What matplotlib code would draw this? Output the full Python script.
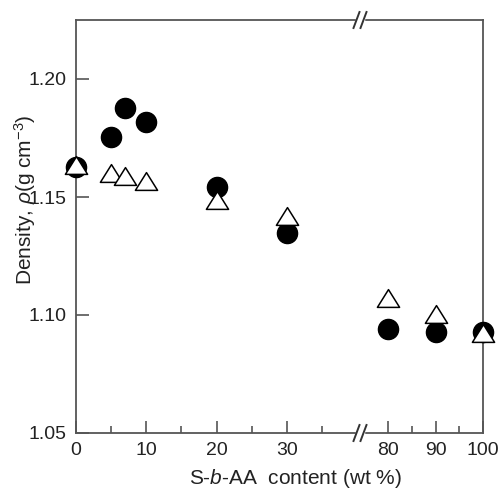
import matplotlib.pyplot as plt
from matplotlib.lines import Line2D
from matplotlib.path import Path

plt.rcParams['font.family'] = ['Liberation Sans', 'DejaVu Sans']
plt.rcParams['mathtext.fontset'] = 'custom'
plt.rcParams['mathtext.rm'] = 'Liberation Sans'
plt.rcParams['mathtext.it'] = 'Liberation Sans:italic'

# data
content = [0, 5, 7, 10, 20, 30, 80, 90, 100]
density_circle = [1.1627, 1.1754, 1.1877, 1.1818, 1.1542, 1.1347, 1.0941, 1.0928, 1.0926]
density_triangle = [1.1636, 1.1602, 1.1589, 1.1568, 1.1487, 1.1419, 1.1072, 1.1004, 1.0924]

left_ticks = [0, 10, 20, 30]
left_minor = [5, 15, 25, 35]
right_ticks = [80, 90, 100]
right_minor = [85, 95]

W, H = 501, 491
fig = plt.figure(figsize=(W / 100, H / 100), dpi=100)

x0, xb, x1 = 76, 360, 483
y0, y1 = 433, 20
bottom = (H - y0) / H
height = (y0 - y1) / H
ax1 = fig.add_axes([x0 / W, bottom, (xb - x0) / W, height])
ax2 = fig.add_axes([xb / W, bottom, (x1 - xb) / W, height])

spine_col = '#555555'
text_col = '#222222'
# slightly flattened open triangle, as in the figure
tri = Path([(-1, -0.8), (1, -0.8), (0, 0.8), (-1, -0.8)], closed=True)

for ax, lo, hi in [(ax1, 0, 40.4), (ax2, 74.1, 100)]:
    idx = [i for i, c in enumerate(content) if lo <= c <= hi]
    xs = [content[i] for i in idx]
    ax.plot(xs, [density_circle[i] for i in idx], 'o', ms=14.5, color='black', mec='black',
            clip_on=False, zorder=3)
    ax.plot(xs, [density_triangle[i] for i in idx], linestyle='none', marker=tri, ms=16,
            mfc='white', mec='black', mew=1.1, clip_on=False, zorder=4)
    ax.set_xlim(lo, hi)
    ax.set_ylim(1.05, 1.225)
    for s in ax.spines.values():
        s.set_color(spine_col)
        s.set_linewidth(1.3)
    ax.tick_params(direction='in', which='major', length=9, width=1.2, color=spine_col,
                   labelsize=14, labelcolor=text_col, pad=6.5)
    ax.tick_params(direction='in', which='minor', length=5, width=1.2, color=spine_col)

ax1.set_xticks(left_ticks)
ax1.set_xticks(left_minor, minor=True)
ax1.set_yticks([1.05, 1.10, 1.15, 1.20])
ax1.set_yticklabels(['1.05', '1.10', '1.15', '1.20'])
ax1.spines['right'].set_visible(False)

ax2.set_xticks(right_ticks)
ax2.set_xticks(right_minor, minor=True)
ax2.set_yticks([])
ax2.spines['left'].set_visible(False)

# break marks
for yp in (y0, y1):
    yf = (H - yp) / H
    fig.add_artist(Line2D([(xb - 3) / W, (xb + 3) / W], [yf, yf], color='white', lw=2.5, zorder=10))
    for dx in (-3.5, 3.5):
        fig.add_artist(Line2D([(xb + dx - 3) / W, (xb + dx + 3) / W], [yf - 8 / H, yf + 8 / H],
                              color='#333333', lw=1.4, zorder=11))

fig.text(295 / W, (H - 479) / H, 'S-$b$-AA  content (wt %)', ha='center', va='center',
         fontsize=15, color=text_col)
fig.text(25 / W, (H - 200) / H, r'Density, $\rho$(g cm$^{-3}$)', ha='center', va='center',
         rotation=90, fontsize=15, color=text_col)

fig.savefig('out.png', dpi=100)
